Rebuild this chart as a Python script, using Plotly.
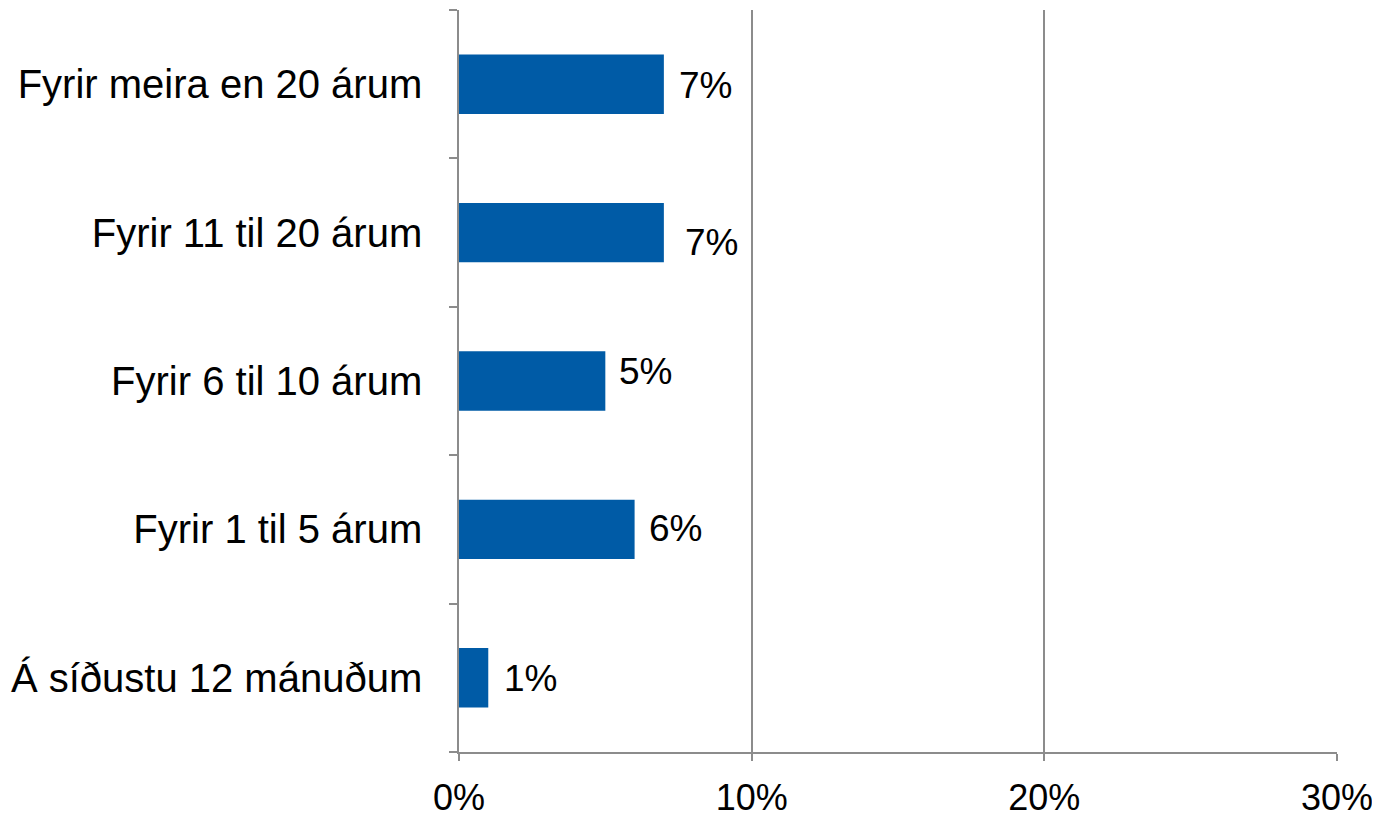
import plotly.graph_objects as go

categories = ["Á síðustu 12 mánuðum", "Fyrir 1 til 5 árum", "Fyrir 6 til 10 árum",
              "Fyrir 11 til 20 árum", "Fyrir meira en 20 árum"]
values = [1, 6, 5, 7, 7]
value_labels = ["1%", "6%", "5%", "7%", "7%"]
x_tick_vals = [0, 10, 20, 30]
x_tick_text = ["0%", "10%", "20%", "30%"]

# label nudges (pixels), style only
label_xshift = [14, 12, 12, 19, 13]
label_yshift = [-1, 1, 10, -10, -1]

FONT = "Liberation Sans, Arial, sans-serif"
GRID = "#8c8c8c"

fig = go.Figure(go.Bar(
    x=values, y=categories, orientation="h",
    marker=dict(color="#005BA6", line=dict(width=0)),
    hoverinfo="skip",
))

for v, c, t, xs, ys in zip(values, categories, value_labels, label_xshift, label_yshift):
    fig.add_annotation(x=v, y=c, text=t, showarrow=False, xanchor="left", yanchor="middle",
                       xshift=xs, yshift=ys, font=dict(family=FONT, size=37, color="#000"))

fig.update_layout(
    width=1380, height=814,
    margin=dict(l=451, r=51, t=2, b=70),
    plot_bgcolor="white", paper_bgcolor="white",
    bargap=0.6, showlegend=False,
    font=dict(family=FONT, size=36, color="#000"),
)
fig.update_xaxes(range=[0, 30], tickvals=x_tick_vals, ticktext=x_tick_text,
                 showgrid=True, gridcolor=GRID, gridwidth=1.5, zeroline=False,
                 showline=True, linecolor=GRID, linewidth=1.5,
                 ticks="outside", ticklen=7, tickcolor=GRID, tickwidth=1.5,
                 ticklabelstandoff=6, tickfont=dict(size=36))
fig.update_yaxes(showgrid=False, zeroline=False, showline=True, linecolor=GRID, linewidth=1.5,
                 ticks="outside", tickson="boundaries", ticklen=8, tickcolor=GRID, tickwidth=1.5,
                 ticklabelstandoff=27, tickfont=dict(size=40))

fig.write_html("out.html")
